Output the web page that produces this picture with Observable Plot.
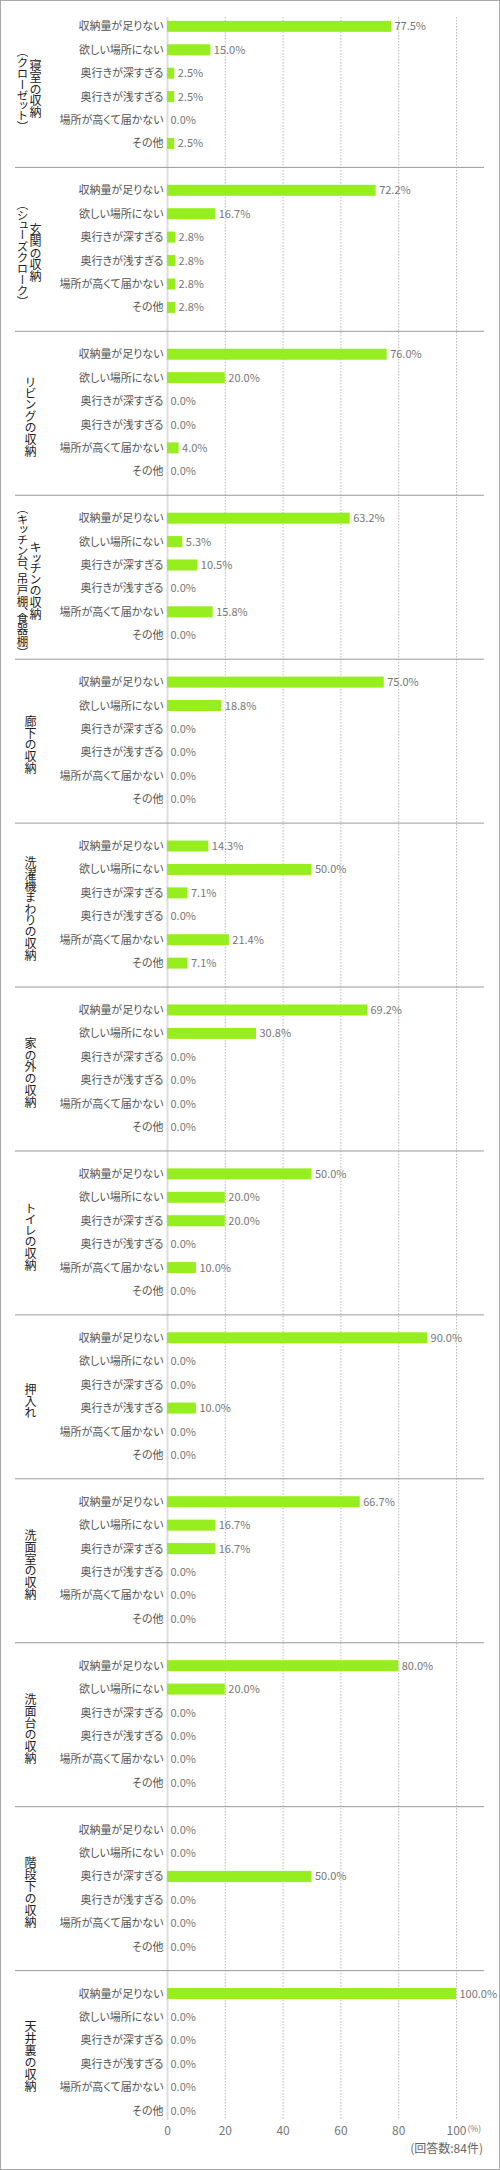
<!DOCTYPE html>
<html>
<head>
<meta charset="utf-8">
<script src="https://cdn.jsdelivr.net/npm/d3@7"></script>
<script src="https://cdn.jsdelivr.net/npm/@observablehq/plot@0.6"></script>
<style>
  body { margin: 0; background: #fff; }
  #box { width: 498px; height: 2168px; border: 1px solid #aaa; font-family: "Noto Sans CJK JP", sans-serif; }
  #note { text-align: right; padding-right: 16px; font-size: 12px; line-height: 12px; color: #666; }
</style>
</head>
<body>
<div id="box">
  <div id="chart"></div>
  <div id="note">(回答数:84件)</div>
</div>
<script>
// 収納場所
const groups = ["寝室の収納", "玄関の収納", "リビングの収納", "キッチンの収納", "廊下の収納",
  "洗濯機まわりの収納", "家の外の収納", "トイレの収納", "押入れ", "洗面室の収納",
  "洗面台の収納", "階段下の収納", "天井裏の収納"];
const groupNotes = ["（クローゼット）", "（シューズクローク）", "", "（キッチン台、吊戸棚、食器棚）", "",
  "", "", "", "", "", "", "", ""];

// 不満の理由
const reasons = ["収納量が足りない", "欲しい場所にない", "奥行きが深すぎる", "奥行きが浅すぎる",
  "場所が高くて届かない", "その他"];

// 割合(%) 収納場所ごと
const shares = [
  [77.5, 15.0, 2.5, 2.5, 0.0, 2.5],
  [72.2, 16.7, 2.8, 2.8, 2.8, 2.8],
  [76.0, 20.0, 0.0, 0.0, 4.0, 0.0],
  [63.2, 5.3, 10.5, 0.0, 15.8, 0.0],
  [75.0, 18.8, 0.0, 0.0, 0.0, 0.0],
  [14.3, 50.0, 7.1, 0.0, 21.4, 7.1],
  [69.2, 30.8, 0.0, 0.0, 0.0, 0.0],
  [50.0, 20.0, 20.0, 0.0, 10.0, 0.0],
  [90.0, 0.0, 0.0, 10.0, 0.0, 0.0],
  [66.7, 16.7, 16.7, 0.0, 0.0, 0.0],
  [80.0, 20.0, 0.0, 0.0, 0.0, 0.0],
  [0.0, 0.0, 50.0, 0.0, 0.0, 0.0],
  [100.0, 0.0, 0.0, 0.0, 0.0, 0.0]
];

const xTicks = [0, 20, 40, 60, 80, 100];

// 行データ (キー = 場所番号|理由)
const rows = groups.flatMap((g, i) => reasons.map((r, j) => ({group: g, key: i + "|" + r, value: shares[i][j]})));
// 場所の間に空行を入れる
const yDomain = groups.flatMap((g, i) => reasons.map(r => i + "|" + r).concat(i < groups.length - 1 ? [i + "|"] : []));
const spacers = yDomain.filter(k => k.endsWith("|"));
const labels = groups.map((g, i) => ({name: g, note: groupNotes[i], key: i + "|" + reasons[2]}));

const chart = Plot.plot({
  width: 498,
  height: 2141,
  marginTop: 16,
  marginBottom: 22,
  marginLeft: 166,
  marginRight: 43,
  style: {fontFamily: "'Noto Sans CJK JP', sans-serif", fontSize: "11px", color: "#555", background: "#fff", fontFeatureSettings: "'palt'"},
  x: {domain: [0, 100]},
  y: {domain: yDomain, paddingInner: 0.53, paddingOuter: 0.165},
  marks: [
    Plot.gridX(xTicks.slice(1), {stroke: "#bbb", strokeOpacity: 1, strokeDasharray: "1.5,1.5"}),
    Plot.ruleX([0], {stroke: "#ddd", strokeWidth: 2}),
    Plot.ruleY(spacers, {y: d => d, stroke: "#999", insetLeft: -152, insetRight: -28}),
    Plot.barX(rows, {x: "value", y: "key", fill: "#96ee1f"}),
    Plot.text(rows, {x: "value", y: "key", text: d => d.value.toFixed(1) + "%", textAnchor: "start", dx: 3, fill: "#777", fontSize: 11}),
    Plot.axisY({tickSize: 0, tickPadding: 4, tickFormat: k => k.split("|")[1], fill: "#555", label: null}),
    Plot.axisX(xTicks, {tickSize: 0, tickPadding: 6, fill: "#777", fontSize: 12, label: null}),
    Plot.text(["(%)"], {x: 100, frameAnchor: "bottom", textAnchor: "start", dx: 11, dy: 11, fontSize: 8.5, fill: "#777"}),
    Plot.text(labels.filter(d => !d.note), {y: "key", text: "name", frameAnchor: "left", textAnchor: "middle", dx: -137, dy: 11.7, fontSize: 12, fill: "#222"}),
    Plot.text(labels.filter(d => d.note), {y: "key", text: "name", frameAnchor: "left", textAnchor: "middle", dx: -132, dy: 11.7, fontSize: 12, fill: "#222"}),
    Plot.text(labels.filter(d => d.note), {y: "key", text: "note", frameAnchor: "left", textAnchor: "middle", dx: -145, dy: 11.7, fontSize: 11.5, fill: "#222"})
  ]
});

// 場所名は縦書き
const vertical = new Set(groups.concat(groupNotes.filter(n => n)));
d3.select(chart).selectAll("text")
  .filter(function() { return vertical.has(this.textContent); })
  .attr("dy", null)
  .style("writing-mode", "vertical-rl")
  .style("font-feature-settings", "'vpal'");

d3.select('#chart').append(() => chart);
</script>
</body>
</html>
